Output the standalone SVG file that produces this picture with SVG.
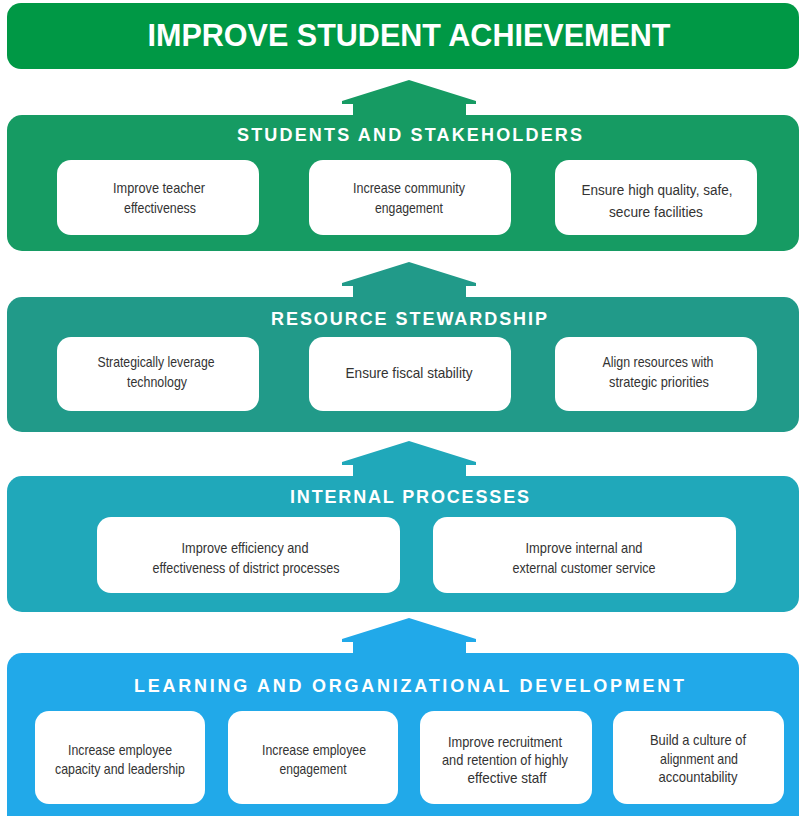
<svg xmlns="http://www.w3.org/2000/svg" width="801" height="816" viewBox="0 0 801 816">
<defs>
<style>
.ttl{font-family:"Liberation Sans",Arial,sans-serif;font-weight:bold;fill:#fff;text-anchor:middle}
.sec{font-size:18px}
.card{fill:#fff}
.t{font-family:"Liberation Sans",Arial,sans-serif;font-size:14.5px;fill:#333;text-anchor:middle}
.t15{font-size:15.5px}
</style>
</defs>
<rect width="801" height="816" fill="#fff"/>

<g id="connectors">
<polygon fill="#169B63" points="342,101 409,80 476,101 476,104 466,104 466,116 353,116 353,104 342,104"/>
<polygon fill="#219A89" points="342,283 409,262 476,283 476,286 466,286 466,298 353,298 353,286 342,286"/>
<polygon fill="#20A8BA" points="342,462 409,441 476,462 476,465 466,465 466,477 353,477 353,465 342,465"/>
<polygon fill="#21A9E9" points="342,639 409,618 476,639 476,642 466,642 466,654 353,654 353,642 342,642"/>
</g>

<g id="goal">
<rect x="7" y="3" width="792" height="66" rx="14" fill="#009845"/>
<text class="ttl" x="409" y="46" font-size="32" textLength="523" lengthAdjust="spacingAndGlyphs">IMPROVE STUDENT ACHIEVEMENT</text>
</g>

<g id="students">
<rect x="7" y="115" width="792" height="136" rx="15" fill="#169B63"/>
<text class="ttl sec" x="409.5" y="141" textLength="345" lengthAdjust="spacing">STUDENTS AND STAKEHOLDERS</text>
<g id="s1"><rect class="card" x="57" y="160" width="202" height="75" rx="14"/>
<text class="t" x="159" y="193" textLength="92" lengthAdjust="spacingAndGlyphs">Improve teacher</text>
<text class="t" x="160" y="213" textLength="72" lengthAdjust="spacingAndGlyphs">effectiveness</text></g>
<g id="s2"><rect class="card" x="309" y="160" width="202" height="75" rx="14"/>
<text class="t" x="409" y="193" textLength="112" lengthAdjust="spacingAndGlyphs">Increase community</text>
<text class="t" x="409" y="213" textLength="68" lengthAdjust="spacingAndGlyphs">engagement</text></g>
<g id="s3"><rect class="card" x="555" y="160" width="202" height="75" rx="14"/>
<text class="t t15" x="657" y="195" textLength="151" lengthAdjust="spacingAndGlyphs">Ensure high quality, safe,</text>
<text class="t t15" x="656" y="217" textLength="94" lengthAdjust="spacingAndGlyphs">secure facilities</text></g>
</g>

<g id="resources">
<rect x="7" y="297" width="792" height="135" rx="15" fill="#219A89"/>
<text class="ttl sec" x="409" y="325" textLength="276" lengthAdjust="spacing">RESOURCE STEWARDSHIP</text>
<g id="r1"><rect class="card" x="57" y="337" width="202" height="74" rx="14"/>
<text class="t" x="156" y="367" textLength="117" lengthAdjust="spacingAndGlyphs">Strategically leverage</text>
<text class="t" x="157" y="387" textLength="60" lengthAdjust="spacingAndGlyphs">technology</text></g>
<g id="r2"><rect class="card" x="309" y="337" width="202" height="74" rx="14"/>
<text class="t" x="409" y="378" textLength="127" lengthAdjust="spacingAndGlyphs">Ensure fiscal stability</text></g>
<g id="r3"><rect class="card" x="555" y="337" width="202" height="74" rx="14"/>
<text class="t" x="658" y="367" textLength="111" lengthAdjust="spacingAndGlyphs">Align resources with</text>
<text class="t" x="659" y="387" textLength="100" lengthAdjust="spacingAndGlyphs">strategic priorities</text></g>
</g>

<g id="internal">
<rect x="7" y="476" width="792" height="136" rx="15" fill="#20A8BA"/>
<text class="ttl sec" x="409.5" y="503" textLength="239" lengthAdjust="spacing">INTERNAL PROCESSES</text>
<g id="i1"><rect class="card" x="97" y="517" width="303" height="76" rx="14"/>
<text class="t" x="245" y="553" textLength="127" lengthAdjust="spacingAndGlyphs">Improve efficiency and</text>
<text class="t" x="246" y="573" textLength="187" lengthAdjust="spacingAndGlyphs">effectiveness of district processes</text></g>
<g id="i2"><rect class="card" x="433" y="517" width="303" height="76" rx="14"/>
<text class="t" x="584" y="553" textLength="117" lengthAdjust="spacingAndGlyphs">Improve internal and</text>
<text class="t" x="584" y="573" textLength="143" lengthAdjust="spacingAndGlyphs">external customer service</text></g>
</g>

<g id="learning">
<rect x="7" y="653" width="792" height="180" rx="15" fill="#21A9E9"/>
<text class="ttl sec" x="409" y="692" textLength="550" lengthAdjust="spacing">LEARNING AND ORGANIZATIONAL DEVELOPMENT</text>
<g id="l1"><rect class="card" x="35" y="711" width="170" height="93" rx="14"/>
<text class="t" x="120" y="755" textLength="104" lengthAdjust="spacingAndGlyphs">Increase employee</text>
<text class="t" x="120" y="774" textLength="130" lengthAdjust="spacingAndGlyphs">capacity and leadership</text></g>
<g id="l2"><rect class="card" x="228" y="711" width="170" height="93" rx="14"/>
<text class="t" x="314" y="755" textLength="104" lengthAdjust="spacingAndGlyphs">Increase employee</text>
<text class="t" x="313" y="774" textLength="67" lengthAdjust="spacingAndGlyphs">engagement</text></g>
<g id="l3"><rect class="card" x="420" y="711" width="172" height="93" rx="14"/>
<text class="t" x="505" y="747" textLength="114" lengthAdjust="spacingAndGlyphs">Improve recruitment</text>
<text class="t" x="505" y="765" textLength="126" lengthAdjust="spacingAndGlyphs">and retention of highly</text>
<text class="t" x="507" y="783" textLength="79" lengthAdjust="spacingAndGlyphs">effective staff</text></g>
<g id="l4"><rect class="card" x="613" y="711" width="171" height="93" rx="14"/>
<text class="t" x="698" y="745" textLength="96" lengthAdjust="spacingAndGlyphs">Build a culture of</text>
<text class="t" x="699" y="764" textLength="78" lengthAdjust="spacingAndGlyphs">alignment and</text>
<text class="t" x="698" y="782" textLength="79" lengthAdjust="spacingAndGlyphs">accountability</text></g>
</g>
</svg>
